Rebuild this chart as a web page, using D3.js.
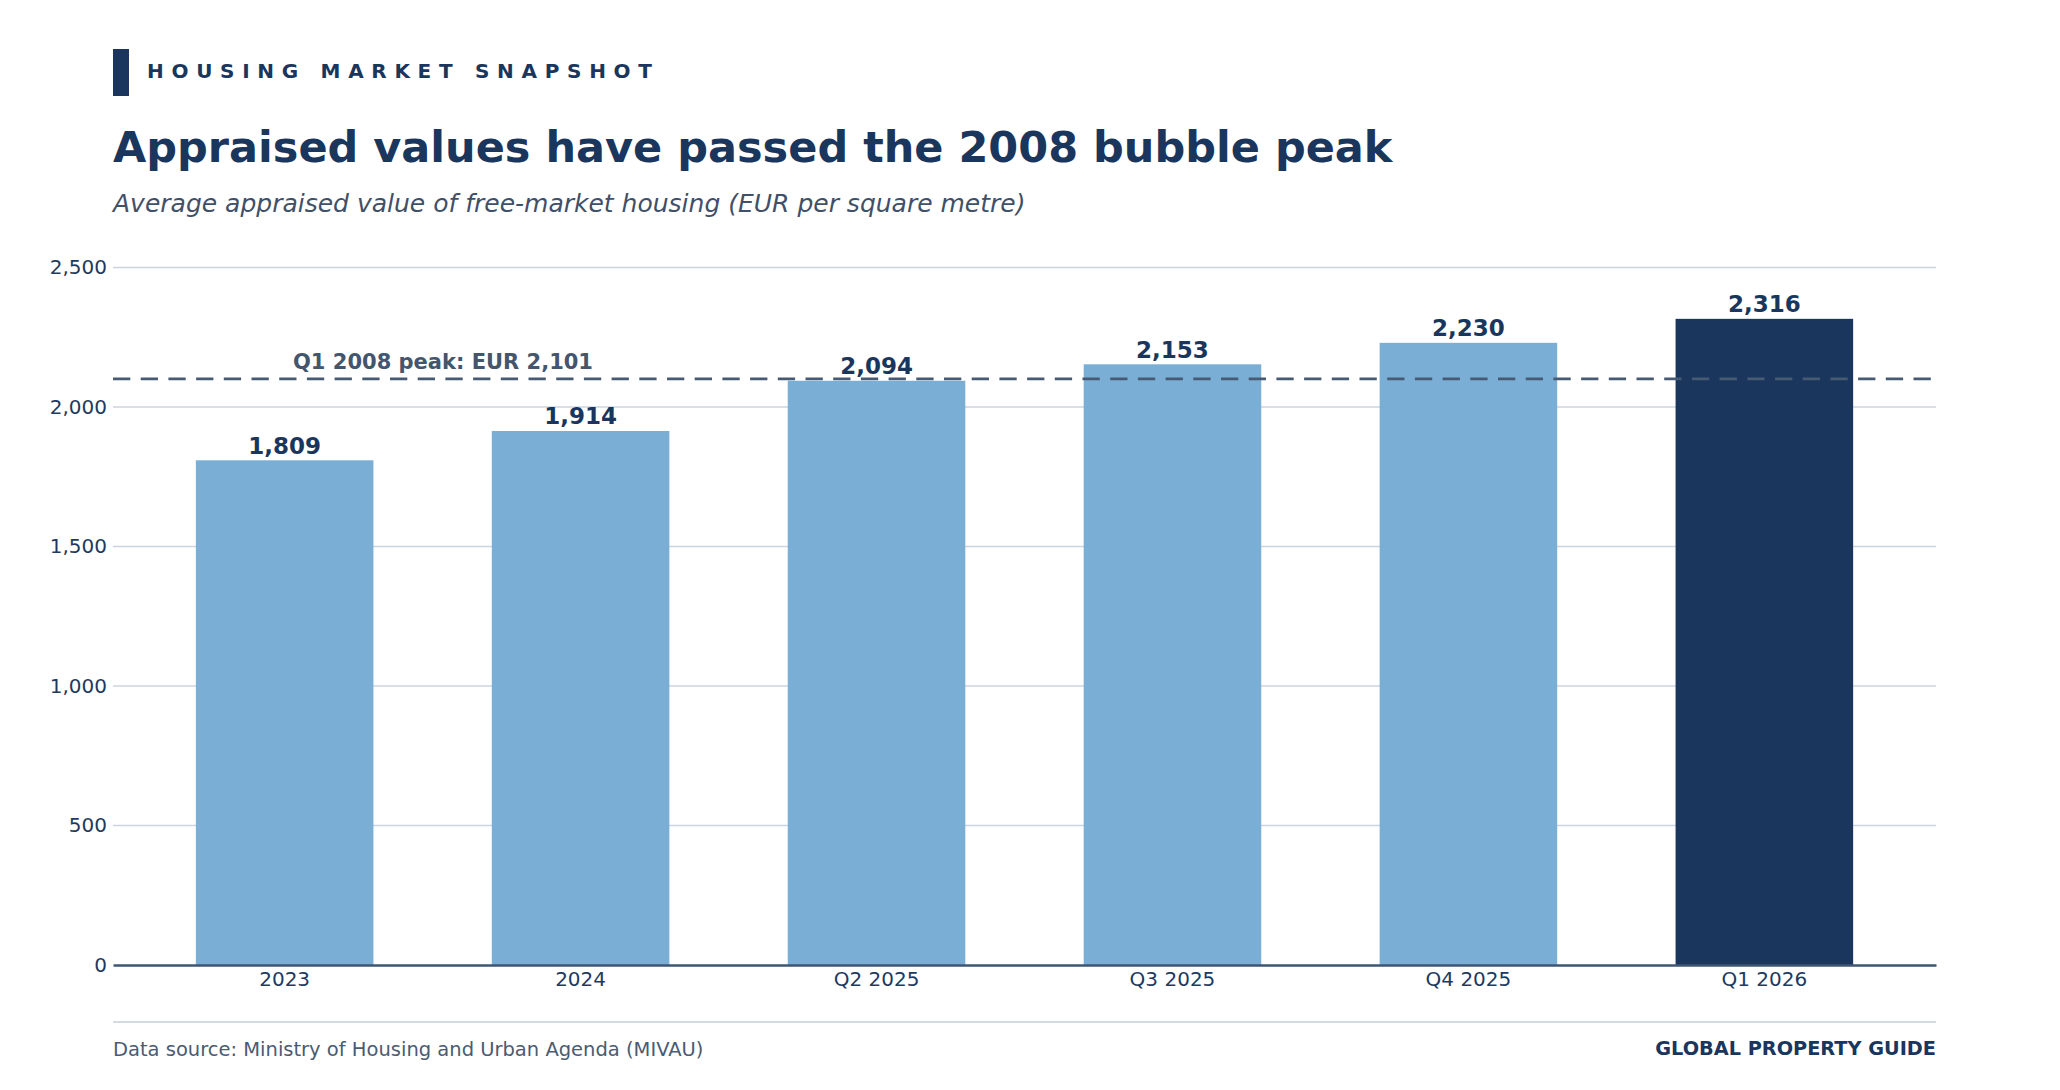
<!doctype html>
<html>
    <head>
        <!--appraised housing values bar chart with 2008 peak reference line-->
        <script src="https://d3js.org/d3.v7.min.js"></script>
        <style type="text/css">

            body    {
                margin:0;
                background:#ffffff;
            }

            svg {
                display:block;
            }

            text    {
                font-family:"DejaVu Sans",Verdana,sans-serif;
            }

        </style>
    </head>

    <body>

        <script>

            //chart data
            var categories = ["2023","2024","Q2 2025","Q3 2025","Q4 2025","Q1 2026"];
            var values = [1809,1914,2094,2153,2230,2316];
            var yTicks = [0,500,1000,1500,2000,2500];
            var peakValue = 2101;
            var peakLabel = "Q1 2008 peak: EUR 2,101";

            //colours
            var navy = "#1a365d";
            var lightBlue = "#7baed4";
            var slate = "#465a74";

            var width = 2060;
            var height = 1090;

            //plot area (plotTop, not top: window.top can't be overwritten)
            var plotLeft = 113;
            var plotRight = 1936;
            var plotBottom = 965;
            var plotTop = 267.5;

            var svgDoc = d3.select("body").append("svg")
                .attr("width",width)
                .attr("height",height);

            //kicker with accent bar
            svgDoc.append("rect")
                .attr("x",113)
                .attr("y",49)
                .attr("width",16)
                .attr("height",47)
                .attr("fill",navy);

            svgDoc.append("text")
                .attr("x",147)
                .attr("y",77.5)
                .attr("fill",navy)
                .style("font-size","20px")
                .style("font-weight","bold")
                .style("letter-spacing","7.7px")
                .text("HOUSING MARKET SNAPSHOT");

            //title and subtitle
            svgDoc.append("text")
                .attr("x",113)
                .attr("y",162)
                .attr("fill",navy)
                .style("font-size","43px")
                .style("font-weight","bold")
                .text("Appraised values have passed the 2008 bubble peak");

            svgDoc.append("text")
                .attr("x",113)
                .attr("y",212)
                .attr("fill","#3f5068")
                .style("font-size","25px")
                .style("font-style","italic")
                .text("Average appraised value of free-market housing (EUR per square metre)");

            //scales
            var x = d3.scaleBand()
                .domain(categories)
                .range([plotLeft,plotRight])
                .paddingInner(0.4)
                .paddingOuter(0.28);

            var y = d3.scaleLinear()
                .domain([0,2500])
                .range([plotBottom,plotTop]);

            //horizontal gridlines
            svgDoc.append("g")
                .selectAll("line")
                .data(yTicks.filter(function(d) { return d > 0; }))
                .enter()
                .append("line")
                .attr("x1",plotLeft)
                .attr("x2",plotRight)
                .attr("y1",function(d) { return y(d); })
                .attr("y2",function(d) { return y(d); })
                .attr("stroke","#ccd5df")
                .attr("stroke-width",1.5);

            //y axis labels
            var yAxis = d3.axisLeft(y)
                .tickValues(yTicks)
                .tickFormat(d3.format(","))
                .tickSize(0)
                .tickPadding(6);

            var yAxisG = svgDoc.append("g")
                .attr("transform","translate(" + plotLeft + ",0)")
                .call(yAxis);
            yAxisG.select(".domain").remove();
            yAxisG.selectAll("text")
                .attr("fill","#1e3a5f")
                .style("font-size","20px");

            //bars
            svgDoc.append("g")
                .selectAll("rect")
                .data(values)
                .enter()
                .append("rect")
                .attr("x",function(d,i) { return x(categories[i]); })
                .attr("y",function(d) { return y(d); })
                .attr("width",x.bandwidth())
                .attr("height",function(d) { return plotBottom - y(d); })
                .attr("fill",function(d,i) {
                    return i == values.length - 1 ? navy : lightBlue;
                });

            //value labels above bars
            svgDoc.append("g")
                .selectAll("text")
                .data(values)
                .enter()
                .append("text")
                .attr("x",function(d,i) { return x(categories[i]) + x.bandwidth()/2; })
                .attr("y",function(d) { return y(d) - 6.5; })
                .attr("text-anchor","middle")
                .attr("fill",navy)
                .style("font-size","23px")
                .style("font-weight","bold")
                .text(function(d) { return d3.format(",")(d); });

            //2008 peak reference line
            svgDoc.append("line")
                .attr("x1",plotLeft)
                .attr("x2",plotRight)
                .attr("y1",y(peakValue))
                .attr("y2",y(peakValue))
                .attr("stroke",slate)
                .attr("stroke-width",2.8)
                .attr("stroke-dasharray","17.3,10.4");

            svgDoc.append("text")
                .attr("x",443)
                .attr("y",y(peakValue) - 10)
                .attr("text-anchor","middle")
                .attr("fill","#44556e")
                .style("font-size","21px")
                .style("font-weight","bold")
                .text(peakLabel);

            //x axis
            var xAxis = d3.axisBottom(x)
                .tickSize(0)
                .tickPadding(7);

            var xAxisG = svgDoc.append("g")
                .attr("transform","translate(0," + plotBottom + ")")
                .call(xAxis);
            xAxisG.select(".domain")
                .attr("stroke","#3e5573")
                .attr("stroke-width",2.5);
            xAxisG.selectAll("text")
                .attr("fill","#1e3a5f")
                .style("font-size","20px");

            //footer
            svgDoc.append("line")
                .attr("x1",plotLeft)
                .attr("x2",plotRight)
                .attr("y1",1022)
                .attr("y2",1022)
                .attr("stroke","#d3dbe3")
                .attr("stroke-width",2);

            svgDoc.append("text")
                .attr("x",113)
                .attr("y",1056)
                .attr("fill","#4a5b73")
                .style("font-size","19.5px")
                .text("Data source: Ministry of Housing and Urban Agenda (MIVAU)");

            svgDoc.append("text")
                .attr("x",plotRight)
                .attr("y",1055)
                .attr("text-anchor","end")
                .attr("fill",navy)
                .style("font-size","19.3px")
                .style("font-weight","bold")
                .text("GLOBAL PROPERTY GUIDE");

        </script>
    </body>
</html>
